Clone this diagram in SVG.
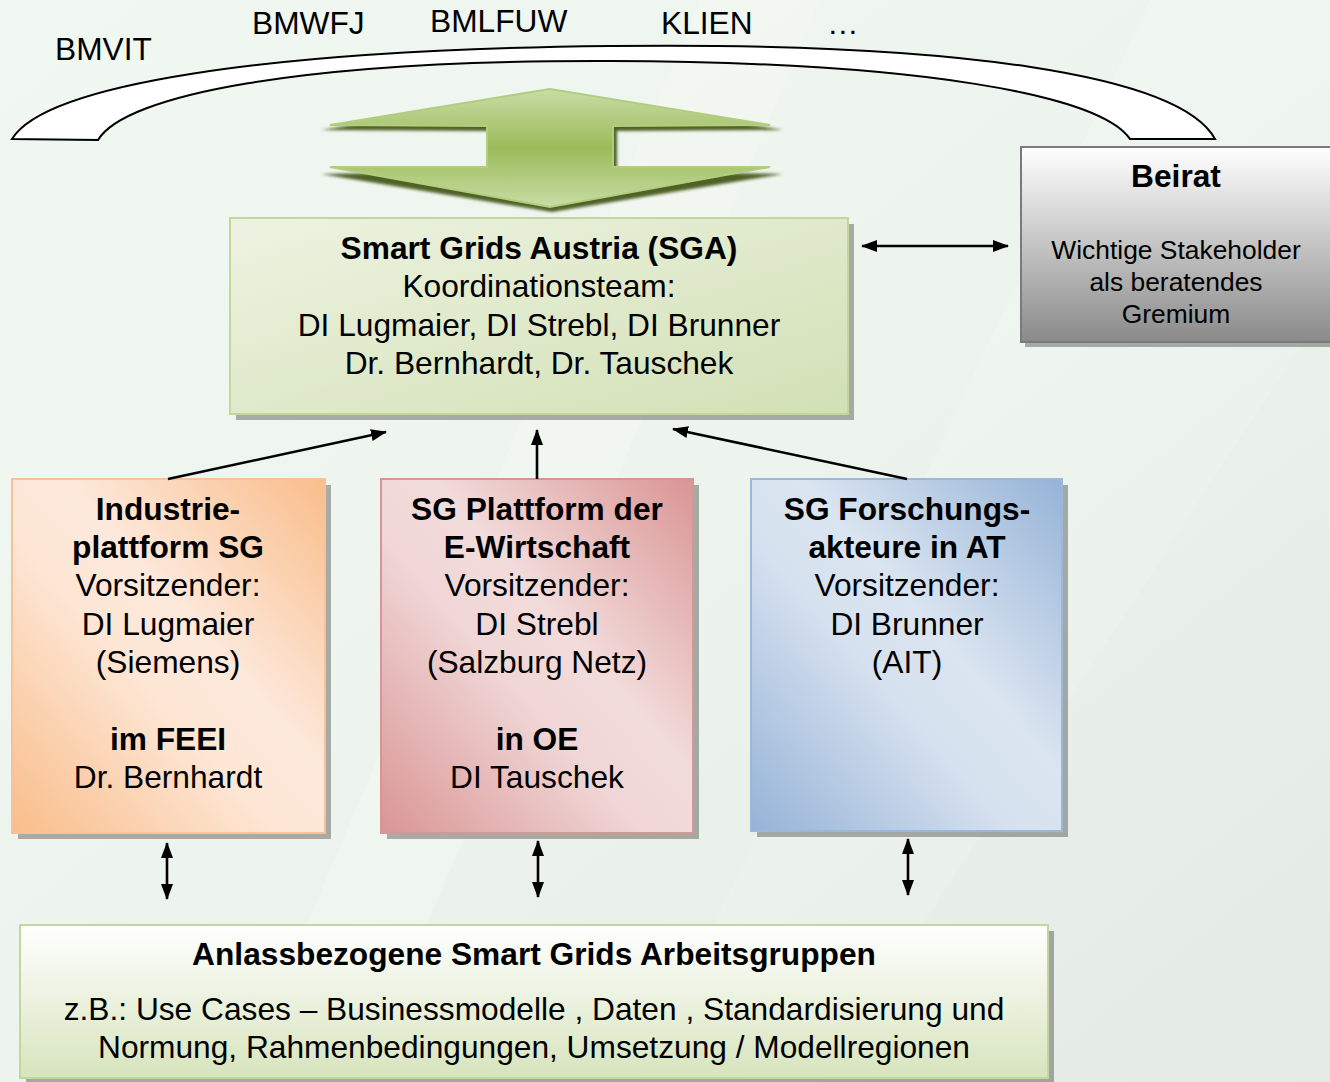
<svg xmlns="http://www.w3.org/2000/svg" width="1330" height="1082" viewBox="0 0 1330 1082">
<defs>
<style>
text{font-family:"Liberation Sans",Arial,sans-serif;fill:#000;text-anchor:middle}
.t{font-size:31.7px}
.b{font-size:31.7px;font-weight:bold}
.s{font-size:26.4px}
.top{font-size:31.7px;text-anchor:start}
.c{stroke:#000;stroke-width:2.6;fill:none}
.sh{fill:#000;opacity:0.3}
</style>
<linearGradient id="bg" x1="0" y1="0" x2="1" y2="1">
<stop offset="0" stop-color="#f1f8f1"/>
<stop offset="0.5" stop-color="#edf4ed"/>
<stop offset="1" stop-color="#e3eae3"/>
</linearGradient>
<linearGradient id="gArrow" x1="0" y1="0" x2="0" y2="1">
<stop offset="0" stop-color="#c9dca6"/>
<stop offset="0.5" stop-color="#9bbb59"/>
<stop offset="1" stop-color="#c9dca6"/>
</linearGradient>
<linearGradient id="gSGA" x1="0" y1="0" x2="1" y2="1">
<stop offset="0" stop-color="#edf3e1"/>
<stop offset="1" stop-color="#d2e0b5"/>
</linearGradient>
<linearGradient id="gBei" x1="0" y1="0" x2="0" y2="1">
<stop offset="0" stop-color="#ffffff"/>
<stop offset="1" stop-color="#8a8a8a"/>
</linearGradient>
<linearGradient id="gOr" x1="0" y1="1" x2="1" y2="0">
<stop offset="0" stop-color="#f9bd8a"/>
<stop offset="0.42" stop-color="#fde6d4"/>
<stop offset="0.58" stop-color="#fde9dc"/>
<stop offset="1" stop-color="#f9bd8a"/>
</linearGradient>
<linearGradient id="gRd" x1="0" y1="1" x2="1" y2="0">
<stop offset="0" stop-color="#d99594"/>
<stop offset="0.42" stop-color="#f0d6d6"/>
<stop offset="0.58" stop-color="#f2dcdb"/>
<stop offset="1" stop-color="#d99594"/>
</linearGradient>
<linearGradient id="gBl" x1="0" y1="1" x2="1" y2="0">
<stop offset="0" stop-color="#95b3d7"/>
<stop offset="0.42" stop-color="#d6e1ef"/>
<stop offset="0.58" stop-color="#dbe5f1"/>
<stop offset="1" stop-color="#95b3d7"/>
</linearGradient>
<linearGradient id="gBot" x1="0" y1="0" x2="0" y2="1">
<stop offset="0" stop-color="#ffffff"/>
<stop offset="1" stop-color="#d7e4bd"/>
</linearGradient>
<filter id="blur" x="-10%" y="-20%" width="120%" height="140%"><feGaussianBlur stdDeviation="1.5"/></filter>
<marker id="ah" viewBox="0 0 16 12" refX="15" refY="6" markerWidth="16" markerHeight="12" markerUnits="userSpaceOnUse" orient="auto-start-reverse">
<path d="M0,0 L16,6 L0,12 Z" fill="#000"/>
</marker>
</defs>

<rect x="0" y="0" width="1330" height="1082" fill="url(#bg)"/>
<polygon points="700,0 820,0 360,1082 240,1082" fill="#ffffff" opacity="0.18"/>
<polygon points="1150,0 1330,0 1330,300 820,1082 640,1082" fill="#ffffff" opacity="0.12"/>

<g id="ministries">
<path d="M12,139 C45,85 260,50 610,46 C960,42 1180,75 1215,139 L1130,139 C1100,95 920,62 610,61 C300,60 125,95 98,140 Z" fill="#ffffff" stroke="#000" stroke-width="2"/>
<text class="top" x="55" y="60">BMVIT</text>
<text class="top" x="252" y="34">BMWFJ</text>
<text class="top" x="430" y="32">BMLFUW</text>
<text class="top" x="661" y="34">KLIEN</text>
<text class="top" x="827" y="34">…</text>
</g>

<g id="exchange-arrow">
<polygon points="551,93 783,130 617,131 617,171 783,174 552,212 321,174 490,171 490,131 321,130" fill="#4f6228" filter="url(#blur)"/>
<polygon points="550,89 770,125 613,126 613,167 770,167 550,207 330,167 487,167 487,126 330,125" fill="url(#gArrow)" stroke="#b3cd7e" stroke-width="2"/>
</g>

<g id="sga">
<rect class="sh" x="236" y="224" width="618" height="196"/>
<rect x="230" y="218" width="618" height="196" fill="url(#gSGA)" stroke="#c3d69b" stroke-width="2"/>
<text class="b" x="539" y="259">Smart Grids Austria (SGA)</text>
<text class="t" x="539" y="297">Koordinationsteam:</text>
<text class="t" x="539" y="336">DI Lugmaier, DI Strebl, DI Brunner</text>
<text class="t" x="539" y="374">Dr. Bernhardt, Dr. Tauschek</text>
</g>

<g id="beirat">
<rect class="sh" x="1025" y="151" width="310" height="196"/>
<rect x="1021" y="147" width="312" height="195" fill="url(#gBei)" stroke="#7a7a7a" stroke-width="2"/>
<text class="b" x="1176" y="187">Beirat</text>
<text class="s" x="1176" y="259">Wichtige Stakeholder</text>
<text class="s" x="1176" y="291">als beratendes</text>
<text class="s" x="1176" y="323">Gremium</text>
</g>

<g id="industrie">
<rect class="sh" x="18" y="485" width="313" height="354"/>
<rect x="12" y="479" width="313" height="354" fill="url(#gOr)" stroke="#f7c29a" stroke-width="2"/>
<text class="b" x="168" y="520">Industrie-</text>
<text class="b" x="168" y="558">plattform SG</text>
<text class="t" x="168" y="596">Vorsitzender:</text>
<text class="t" x="168" y="635">DI Lugmaier</text>
<text class="t" x="168" y="673">(Siemens)</text>
<text class="b" x="168" y="750">im FEEI</text>
<text class="t" x="168" y="788">Dr. Bernhardt</text>
</g>

<g id="e-wirtschaft">
<rect class="sh" x="387" y="485" width="312" height="354"/>
<rect x="381" y="479" width="312" height="354" fill="url(#gRd)" stroke="#d99594" stroke-width="2"/>
<text class="b" x="537" y="520">SG Plattform der</text>
<text class="b" x="537" y="558">E-Wirtschaft</text>
<text class="t" x="537" y="596">Vorsitzender:</text>
<text class="t" x="537" y="635">DI Strebl</text>
<text class="t" x="537" y="673">(Salzburg Netz)</text>
<text class="b" x="537" y="750">in OE</text>
<text class="t" x="537" y="788">DI Tauschek</text>
</g>

<g id="forschung">
<rect class="sh" x="757" y="485" width="311" height="352"/>
<rect x="751" y="479" width="311" height="352" fill="url(#gBl)" stroke="#9bb8da" stroke-width="2"/>
<text class="b" x="907" y="520">SG Forschungs-</text>
<text class="b" x="907" y="558">akteure in AT</text>
<text class="t" x="907" y="596">Vorsitzender:</text>
<text class="t" x="907" y="635">DI Brunner</text>
<text class="t" x="907" y="673">(AIT)</text>
</g>

<g id="arbeitsgruppen">
<rect class="sh" x="26" y="931" width="1028" height="153"/>
<rect x="20" y="925" width="1028" height="153" fill="url(#gBot)" stroke="#c3d69b" stroke-width="2"/>
<text class="b" x="534" y="965">Anlassbezogene Smart Grids Arbeitsgruppen</text>
<text class="t" x="534" y="1020">z.B.: Use Cases – Businessmodelle , Daten , Standardisierung und</text>
<text class="t" x="534" y="1058">Normung, Rahmenbedingungen, Umsetzung / Modellregionen</text>
</g>

<g id="connectors">
<line class="c" x1="862" y1="246" x2="1008" y2="246" marker-start="url(#ah)" marker-end="url(#ah)"/>
<line class="c" x1="168" y1="479" x2="386" y2="432" marker-end="url(#ah)"/>
<line class="c" x1="537" y1="479" x2="537" y2="430" marker-end="url(#ah)"/>
<line class="c" x1="907" y1="479" x2="673" y2="429" marker-end="url(#ah)"/>
<line class="c" x1="167" y1="843" x2="167" y2="899" marker-start="url(#ah)" marker-end="url(#ah)"/>
<line class="c" x1="538" y1="841" x2="538" y2="897" marker-start="url(#ah)" marker-end="url(#ah)"/>
<line class="c" x1="908" y1="839" x2="908" y2="895" marker-start="url(#ah)" marker-end="url(#ah)"/>
</g>
</svg>
